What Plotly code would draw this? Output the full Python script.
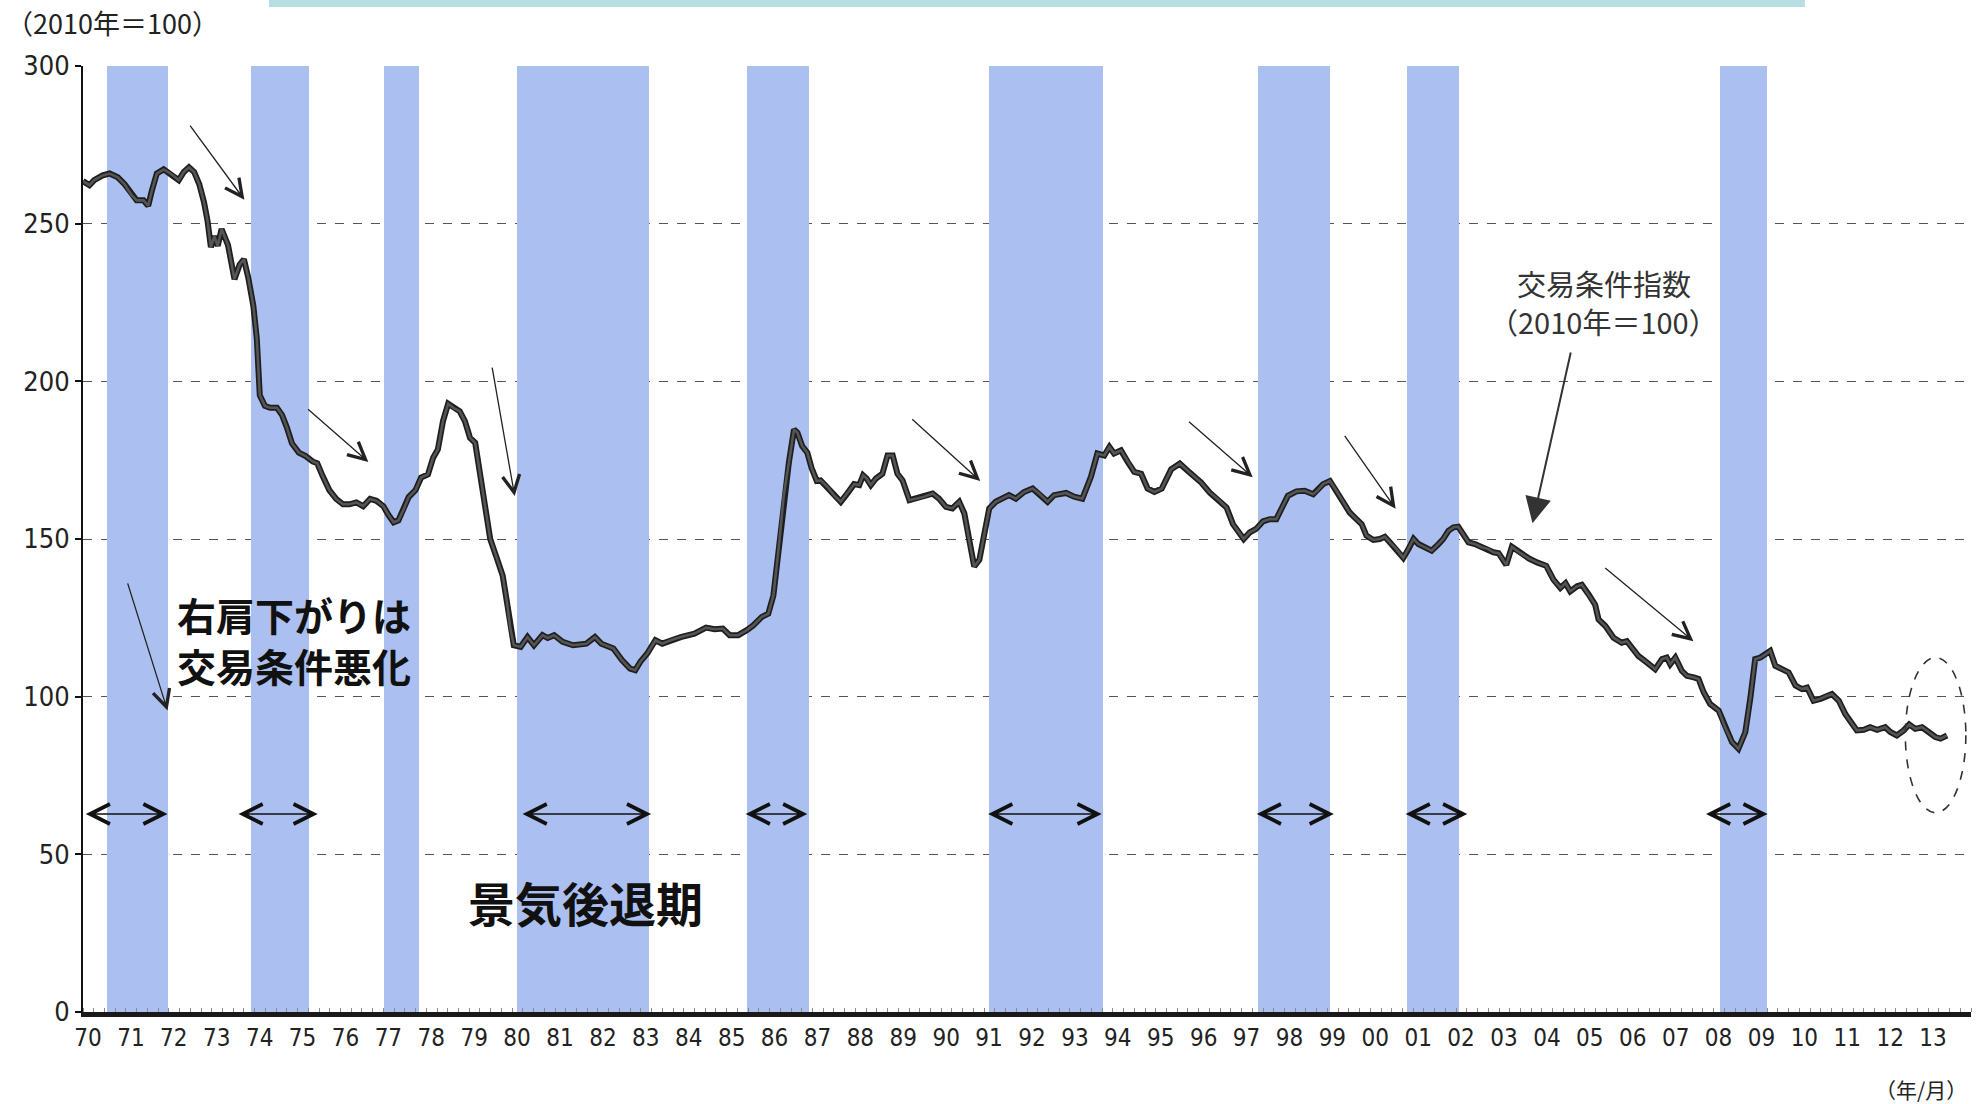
import plotly.graph_objects as go

# ---------------- data ----------------
years = [
    1970.00, 1970.15, 1970.26, 1970.46, 1970.62, 1970.81, 1970.97, 1971.13, 1971.25, 1971.41,
    1971.52, 1971.60, 1971.72, 1971.88, 1972.04, 1972.23, 1972.35, 1972.47, 1972.59, 1972.71,
    1972.82, 1972.90, 1972.98, 1973.06, 1973.14, 1973.23, 1973.38, 1973.53, 1973.65, 1973.75,
    1973.85, 1973.97, 1974.05, 1974.09, 1974.12, 1974.24, 1974.36, 1974.52, 1974.64, 1974.75,
    1974.87, 1975.03, 1975.19, 1975.35, 1975.46, 1975.58, 1975.74, 1975.90, 1976.06, 1976.21,
    1976.37, 1976.53, 1976.69, 1976.84, 1977.00, 1977.12, 1977.24, 1977.35, 1977.47, 1977.59,
    1977.75, 1977.88, 1978.04, 1978.16, 1978.27, 1978.39, 1978.51, 1978.63, 1978.78, 1978.90,
    1979.02, 1979.14, 1979.25, 1979.37, 1979.49, 1979.65, 1979.78, 1979.88, 1979.96, 1980.04,
    1980.20, 1980.36, 1980.51, 1980.71, 1980.83, 1980.98, 1981.18, 1981.42, 1981.73, 1981.93,
    1982.08, 1982.36, 1982.56, 1982.75, 1982.87, 1982.99, 1983.15, 1983.34, 1983.50, 1983.70,
    1983.93, 1984.25, 1984.52, 1984.72, 1984.91, 1985.07, 1985.27, 1985.47, 1985.62, 1985.82,
    1985.97, 1986.09, 1986.21, 1986.33, 1986.45, 1986.57, 1986.65, 1986.76, 1986.88, 1986.98,
    1987.10, 1987.19, 1987.35, 1987.50, 1987.66, 1987.81, 1987.97, 1988.09, 1988.18, 1988.26,
    1988.36, 1988.48, 1988.63, 1988.75, 1988.87, 1988.98, 1989.10, 1989.26, 1989.41, 1989.60,
    1989.80, 1989.95, 1990.11, 1990.26, 1990.42, 1990.54, 1990.65, 1990.77, 1990.89, 1991.00,
    1991.12, 1991.27, 1991.43, 1991.58, 1991.74, 1991.93, 1992.13, 1992.28, 1992.48, 1992.63,
    1992.91, 1993.10, 1993.29, 1993.49, 1993.64, 1993.80, 1993.92, 1994.03, 1994.19, 1994.35,
    1994.50, 1994.66, 1994.81, 1994.97, 1995.14, 1995.36, 1995.56, 1995.75, 1995.91, 1996.06,
    1996.26, 1996.45, 1996.65, 1996.80, 1996.94, 1997.05, 1997.19, 1997.34, 1997.50, 1997.66,
    1997.81, 1997.97, 1998.08, 1998.28, 1998.47, 1998.67, 1998.78, 1998.90, 1999.06, 1999.21,
    1999.37, 1999.52, 1999.64, 1999.80, 1999.91, 2000.07, 2000.22, 2000.34, 2000.46, 2000.61,
    2000.77, 2000.89, 2001.01, 2001.12, 2001.28, 2001.43, 2001.59, 2001.70, 2001.82, 2001.94,
    2002.05, 2002.17, 2002.29, 2002.44, 2002.60, 2002.75, 2002.87, 2002.99, 2003.17, 2003.30,
    2003.50, 2003.70, 2003.90, 2004.10, 2004.27, 2004.43, 2004.55, 2004.66, 2004.82, 2004.93,
    2005.09, 2005.24, 2005.32, 2005.48, 2005.67, 2005.86, 2005.98, 2006.10, 2006.25, 2006.45,
    2006.64, 2006.80, 2006.91, 2006.99, 2007.11, 2007.26, 2007.38, 2007.54, 2007.65, 2007.77,
    2007.92, 2008.12, 2008.27, 2008.43, 2008.58, 2008.74, 2008.86, 2008.97, 2009.09, 2009.21,
    2009.32, 2009.44, 2009.59, 2009.75, 2009.91, 2010.06, 2010.18, 2010.33, 2010.49, 2010.64,
    2010.76, 2010.92, 2011.07, 2011.23, 2011.34, 2011.50, 2011.65, 2011.81, 2012.00, 2012.12,
    2012.27, 2012.43, 2012.56, 2012.70, 2012.86, 2013.01, 2013.17, 2013.29, 2013.44,
]
tot_index = [
    263.5, 262.2, 263.8, 265.3, 265.9, 264.7, 262.5, 259.1, 257.4, 257.4,
    255.7, 260.2, 265.9, 267.2, 265.9, 263.8, 266.4, 267.9, 266.4, 262.5,
    256.8, 251.1, 242.6, 246.0, 243.0, 248.3, 243.2, 232.4, 237.0, 238.7,
    233.0, 223.9, 213.7, 202.4, 195.6, 192.2, 191.6, 191.6, 189.3, 185.4,
    180.3, 177.4, 176.3, 174.6, 174.0, 170.1, 165.5, 162.7, 161.0, 161.0,
    161.6, 160.4, 162.7, 162.1, 160.4, 157.6, 155.3, 155.9, 159.3, 163.3,
    165.5, 169.5, 170.5, 175.8, 178.4, 187.4, 192.9, 191.6, 190.5, 187.4,
    182.1, 180.5, 171.1, 160.5, 150.0, 143.7, 138.4, 130.0, 121.6, 116.3,
    115.8, 118.9, 116.3, 119.5, 118.6, 119.5, 117.4, 116.3, 116.8, 118.9,
    116.8, 115.3, 111.6, 108.9, 108.4, 111.1, 113.7, 117.9, 116.8, 117.9,
    118.9, 120.0, 121.9, 121.4, 121.6, 119.5, 119.5, 121.1, 122.6, 125.3,
    126.3, 132.1, 146.8, 163.7, 174.2, 184.7, 183.7, 179.5, 177.4, 172.5,
    168.4, 168.6, 166.5, 163.9, 161.8, 164.4, 167.4, 167.1, 170.2, 169.2,
    167.1, 169.2, 170.7, 176.5, 176.5, 170.7, 168.6, 162.3, 162.8, 163.4,
    164.4, 162.8, 160.2, 159.7, 161.8, 158.1, 149.7, 141.3, 143.4, 150.7,
    159.7, 161.8, 162.8, 163.9, 162.8, 164.9, 166.0, 164.4, 161.8, 163.9,
    164.6, 163.4, 162.8, 169.7, 177.1, 176.5, 179.2, 177.1, 178.1, 174.4,
    171.3, 170.7, 166.0, 164.9, 166.0, 172.1, 173.9, 171.6, 169.7, 167.9,
    164.7, 162.6, 160.0, 154.7, 152.1, 150.0, 152.1, 153.2, 155.6, 156.3,
    156.3, 160.5, 163.7, 165.1, 165.3, 164.2, 165.5, 167.4, 168.4, 165.3,
    161.6, 158.4, 156.8, 154.7, 151.1, 149.7, 150.0, 150.7, 148.9, 146.8,
    144.0, 146.8, 150.0, 148.4, 147.4, 146.3, 148.4, 150.0, 152.6, 153.7,
    153.9, 151.6, 148.9, 148.4, 147.4, 146.8, 145.8, 145.5, 141.8, 147.5,
    145.5, 143.8, 142.5, 141.5, 137.1, 134.5, 136.0, 133.4, 135.0, 135.5,
    132.4, 129.2, 124.5, 122.4, 118.7, 117.1, 117.6, 115.5, 112.9, 110.8,
    108.7, 111.9, 112.4, 110.3, 112.4, 108.2, 106.6, 106.1, 105.6, 101.4,
    97.7, 95.6, 90.3, 85.6, 83.5, 88.7, 99.8, 111.9, 112.4, 113.4,
    114.5, 109.8, 108.7, 107.7, 103.5, 102.4, 102.9, 98.7, 99.3, 100.3,
    100.8, 98.7, 94.5, 91.4, 89.3, 89.5, 90.3, 89.5, 90.3, 88.8,
    87.7, 89.3, 91.2, 89.8, 90.3, 88.8, 87.2, 86.7, 87.7,
]

# recession periods (景気後退期)
rec_start = [1970.56, 1973.92, 1977.02, 1980.12, 1985.47, 1991.12, 1997.38, 2000.85, 2008.15]
rec_end = [1971.97, 1975.27, 1977.82, 1983.18, 1986.92, 1993.77, 1999.06, 2002.06, 2009.24]

# double arrows marking recession spans
span_start = [1970.03, 1973.59, 1980.21, 1985.41, 1991.06, 1997.32, 2000.79, 2007.79]
span_end = [1971.97, 1975.47, 1983.24, 1986.88, 1993.74, 1999.15, 2002.26, 2009.26]
span_level = 62.8

# thin "deterioration" arrows: tail (x, y) -> head (x, y)
arr_x0 = [1972.47, 1975.21, 1979.53, 1989.29, 1995.74, 1999.38, 2005.44, 1971.03]
arr_y0 = [281.6, 191.6, 204.8, 188.4, 187.6, 183.2, 141.2, 136.4]
arr_x1 = [1973.76, 1976.65, 1980.06, 1990.91, 1997.26, 2000.59, 2007.53, 1971.97]
arr_y1 = [257.6, 174.4, 163.6, 168.4, 169.6, 159.6, 117.6, 95.6]

tick_years = list(range(1970, 2014))
tick_text = [f"{y % 100:02d}" for y in tick_years]
y_ticks = [0, 50, 100, 150, 200, 250, 300]

# ---------------- figure ----------------
BAND = "#abc0f0"
NARROW = "Liberation Sans Narrow, DejaVu Sans Condensed, Arial Narrow, sans-serif"
JP = "Noto Sans CJK JP, Noto Sans, sans-serif"

fig = go.Figure()

fig.add_trace(go.Bar(
    x=[(s + e) / 2 for s, e in zip(rec_start, rec_end)],
    width=[e - s for s, e in zip(rec_start, rec_end)],
    y=[y_ticks[-1]] * len(rec_start),
    base=0,
    marker=dict(color=BAND, line=dict(width=0)),
    hoverinfo="skip",
    showlegend=False,
))

fig.add_trace(go.Scatter(
    x=years, y=tot_index, mode="lines",
    line=dict(color="#1e1e1e", width=6),
    showlegend=False, hoverinfo="skip",
))
fig.add_trace(go.Scatter(
    x=years, y=tot_index, mode="lines",
    line=dict(color="#555555", width=2.6),
    showlegend=False, name="交易条件指数",
))

ann = []
for x0, y0, x1, y1 in zip(arr_x0, arr_y0, arr_x1, arr_y1):
    ann.append(dict(
        x=x1, y=y1, ax=x0, ay=y0, xref="x", yref="y", axref="x", ayref="y",
        text="", showarrow=True, arrowhead=5, arrowsize=2.6, arrowwidth=1.3,
        arrowcolor="#222222",
    ))
for s, e in zip(span_start, span_end):
    ann.append(dict(
        x=e, y=span_level, ax=s, ay=span_level, xref="x", yref="y", axref="x", ayref="y",
        text="", showarrow=True, arrowside="end+start",
        arrowhead=5, startarrowhead=5, arrowsize=2.6, startarrowsize=2.6, arrowwidth=1.5,
        arrowcolor="#111111",
    ))
# heavy pointer to the series label
ann.append(dict(
    x=2003.78, y=155.0, ax=2004.68, ay=209.6, xref="x", yref="y", axref="x", ayref="y",
    text="", showarrow=True, arrowhead=2, arrowsize=2.6, arrowwidth=2,
    arrowcolor="#333333",
))

ann.append(dict(
    x=2005.44, y=231.2, xref="x", yref="y", showarrow=False,
    text="交易条件指数",
    font=dict(family=JP, size=29, color="#333333"),
    xanchor="center", yanchor="middle",
))
ann.append(dict(
    x=2005.44, y=219.2, xref="x", yref="y", showarrow=False,
    text="（2010年＝100）",
    font=dict(family=JP, size=29, color="#333333"),
    xanchor="center", yanchor="middle",
))
ann.append(dict(
    x=1974.91, y=118.2, xref="x", yref="y", showarrow=False,
    text="右肩下がりは<br>交易条件悪化",
    font=dict(family=JP, size=39, color="#111111", weight="bold"),
    xanchor="center", yanchor="middle",
))
ann.append(dict(
    x=1981.71, y=35.2, xref="x", yref="y", showarrow=False,
    text="景気後退期",
    font=dict(family=JP, size=47, color="#111111", weight="bold"),
    xanchor="center", yanchor="middle",
))
ann.append(dict(
    x=-0.042, y=1.0455, xref="paper", yref="paper", showarrow=False,
    text="（2010年＝100）",
    font=dict(family=JP, size=27, color="#222222"),
    xanchor="left", yanchor="middle",
))
ann.append(dict(
    x=0.9735, y=-0.081, xref="paper", yref="paper", showarrow=False,
    text="（年/月）",
    font=dict(family=JP, size=21, color="#222222"),
    xanchor="center", yanchor="middle",
))

shapes = [
    # teal strip at top (slide decoration)
    dict(type="rect", xref="paper", yref="paper", x0=0.0985, x1=0.912, y0=1.0625, y1=1.09,
         fillcolor="#b6dfe2", line=dict(width=0), layer="above"),
    # dashed ellipse around latest data
    dict(type="circle", xref="x", yref="y", x0=2012.47, x1=2013.88, y0=63.2, y1=112.4,
         line=dict(color="#333333", width=1.6, dash="dash"), layer="above"),
]

fig.update_layout(
    width=1979, height=1104,
    margin=dict(l=83, r=8, t=66, b=92),
    paper_bgcolor="white", plot_bgcolor="white",
    bargap=0, barmode="overlay",
    annotations=ann, shapes=shapes,
    showlegend=False,
)
fig.update_xaxes(
    range=[1970, 2014], tickvals=tick_years, ticktext=tick_text,
    tickfont=dict(family=NARROW, size=24, color="#222222"),
    ticklabelshift=5,
    showgrid=False, zeroline=False,
    showline=True, linecolor="#1a1a1a", linewidth=5,
    ticks="", minor=dict(dtick=0.25, ticks="inside", ticklen=4, tickcolor="#8a8a8a", tickwidth=1),
)
fig.update_yaxes(
    range=[0, 300], tickvals=y_ticks,
    tickfont=dict(family=NARROW, size=27, color="#222222"),
    showgrid=True, gridcolor="#555555", gridwidth=1, griddash="dash",
    zeroline=False,
    showline=True, linecolor="#111111", linewidth=2,
    ticks="outside", ticklen=6, tickcolor="#111111", tickwidth=2,
)

fig.write_html(
    "out.html",
    config={"displayModeBar": False},
    post_script="document.body.style.margin='0';document.body.style.overflow='hidden';",
)
